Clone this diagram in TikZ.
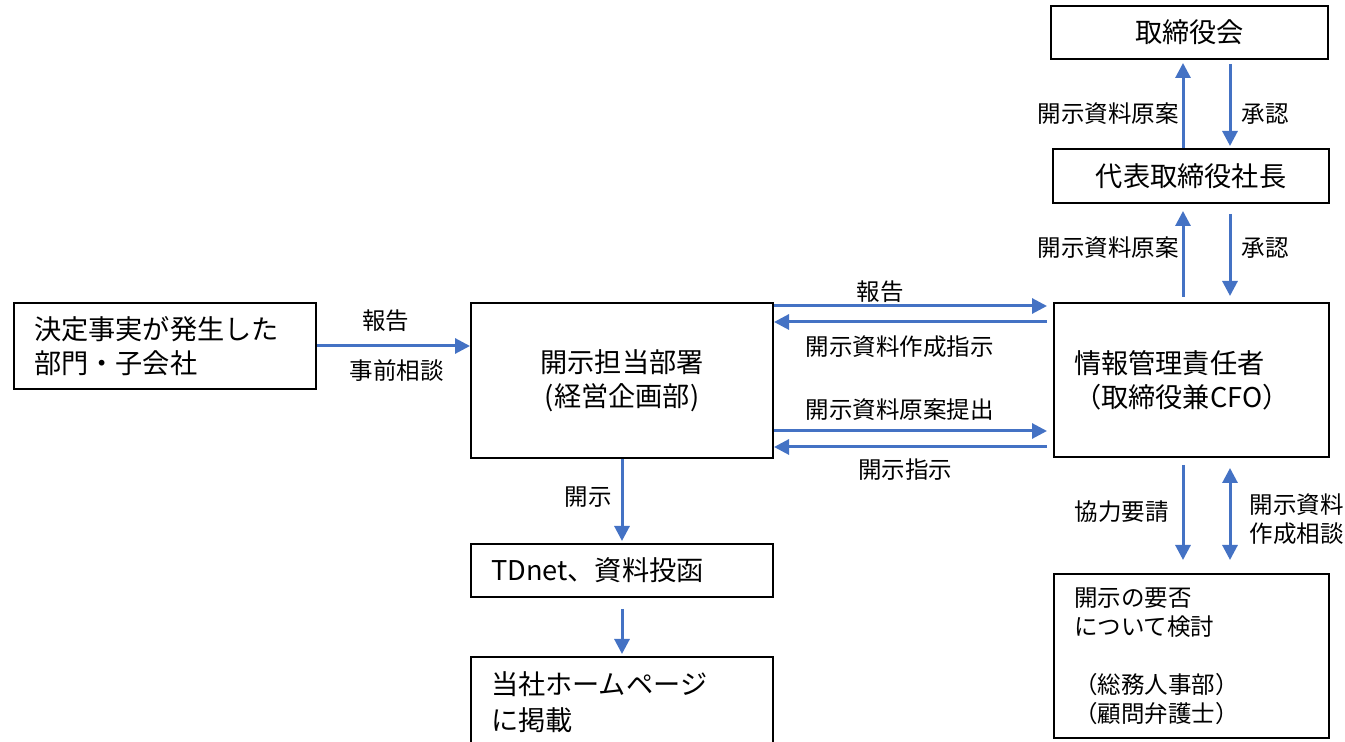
\documentclass[tikz,border=0pt]{standalone}
\usepackage{fontspec}
\setmainfont{Noto Sans CJK JP}
\usetikzlibrary{arrows.meta,positioning}
\definecolor{flowblue}{HTML}{4472C4}
\newcommand{\boxfont}{\fontsize{13.6}{17}\selectfont}
\newcommand{\lblfont}{\fontsize{11.75}{14.5}\selectfont}

\begin{document}
\begin{tikzpicture}[x=0.5pt,y=-0.5pt,
	box/.style={draw,line width=1pt,anchor=north west,inner xsep=10pt,inner ysep=0pt,font=\boxfont},
	lbl/.style={inner sep=1pt,font=\lblfont},
	flow/.style={draw=flowblue,line width=1.5pt,>={Triangle[length=7.5pt,width=7.5pt]},->}]
	\useasboundingbox (0,0) rectangle (1345,742);

	\node[box,text width=131pt,minimum height=43pt,align=left] (dept) at (13,302) {決定事実が発生した\\部門・子会社};
	\node[box,text width=131pt,minimum height=77.5pt,align=center] (disc) at (470,302) {開示担当部署\\(経営企画部)};
	\node[box,text width=117.5pt,minimum height=77pt,align=left] (info) at (1053,302) {情報管理責任者\\（取締役兼CFO）};
	\node[box,text width=118.5pt,minimum height=26.5pt,align=center] (board) at (1050,5) {取締役会};
	\node[box,text width=118pt,minimum height=27pt,align=center] (pres) at (1052,148) {代表取締役社長};
	\node[box,text width=131pt,minimum height=26.5pt,align=left] (tdnet) at (470,543) {TDnet、資料投函};
	\node[box,text width=131pt,minimum height=45pt,align=left] (web) at (470,656) {当社ホームページ\\[1pt]に掲載};
	\node[box,text width=117.5pt,minimum height=82pt,align=left,font=\lblfont] (check) at (1053,573) {開示の要否\\について検討\\[14.5pt]（総務人事部）\\（顧問弁護士）};

	\draw[flow] (dept.east) -- (dept.east -| disc.west)
		node[lbl,pos=0.45,yshift=12.5pt] {報告}
		node[lbl,pos=0.52,yshift=-12.5pt] {事前相談};

	\draw[flow] ([shift={(0,4)}]disc.north east) -- ([shift={(-6,4)}]info.north west)
		node[lbl,pos=0.39,yshift=7pt] {報告};
	\draw[flow] ([shift={(-6,20)}]info.north west) -- ([shift={(0,20)}]disc.north east)
		node[lbl,pos=0.54,yshift=-12.5pt] {開示資料作成指示};
	\draw[flow] ([shift={(0,129)}]disc.north east) -- ([shift={(-6,129)}]info.north west)
		node[lbl,pos=0.46,yshift=10.5pt] {開示資料原案提出};
	\draw[flow] ([shift={(-6,145)}]info.north west) -- ([shift={(0,145)}]disc.north east)
		node[lbl,pos=0.52,yshift=-11.5pt] {開示指示};

	\draw[flow] (disc.south) -- ([yshift=1pt]tdnet.north)
		node[lbl,midway,anchor=east,xshift=-3.5pt,yshift=1.5pt] {開示};
	\draw[flow] ([yshift=-5.5pt]tdnet.south) -- ([yshift=1pt]web.north);

	\draw[flow] ([shift={(130,-5)}]info.north west) -- ([shift={(131,7)}]pres.south west)
		node[lbl,midway,anchor=east,xshift=-0.5pt,yshift=3pt] {開示資料原案};
	\draw[flow] ([shift={(178,10)}]pres.south west) -- ([shift={(177,-6)}]info.north west)
		node[lbl,midway,anchor=west,xshift=4pt,yshift=3.5pt] {承認};
	\draw[flow] ([shift={(131,0)}]pres.north west) -- ([shift={(133,3)}]board.south west)
		node[lbl,midway,anchor=east,xshift=-0.5pt,yshift=-4pt] {開示資料原案};
	\draw[flow] ([shift={(180,4)}]board.south west) -- ([shift={(178,-2)}]pres.north west)
		node[lbl,midway,anchor=west,xshift=4pt,yshift=-4.5pt] {承認};

	\draw[flow] ([shift={(130,7)}]info.south west) -- ([shift={(130,-13)}]check.north west)
		node[lbl,midway,anchor=east,xshift=-5.5pt,yshift=0.5pt] {協力要請};
	\draw[flow,<->] ([shift={(177,10)}]info.south west) -- ([shift={(177,-13)}]check.north west)
		node[lbl,midway,anchor=west,xshift=8pt,yshift=-2.5pt,align=left] {開示資料\\作成相談};
\end{tikzpicture}
\end{document}
